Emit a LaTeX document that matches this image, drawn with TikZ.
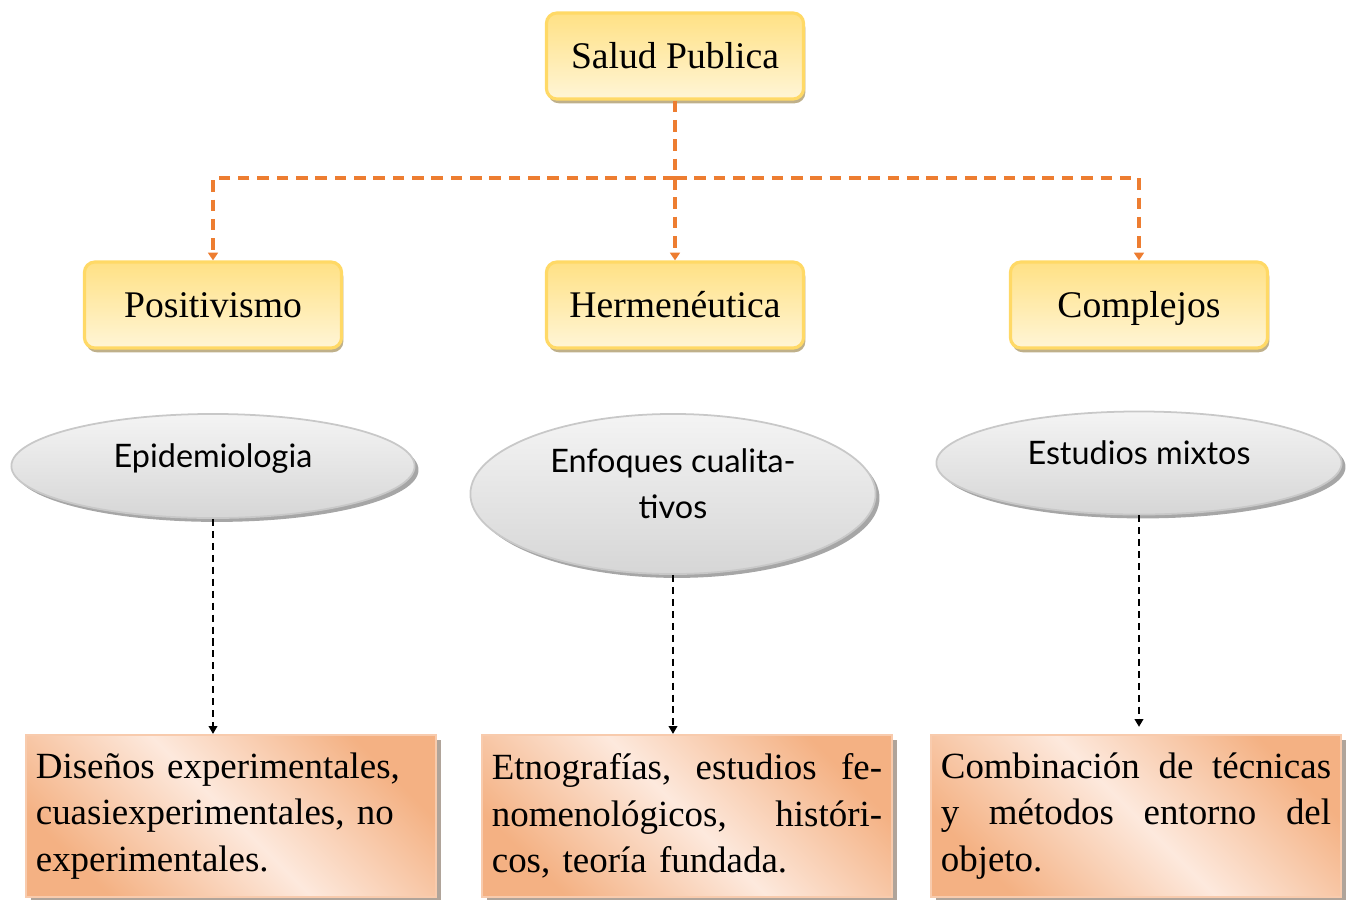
\documentclass[tikz,border=0pt]{standalone}
\usepackage{fontspec}
\setmainfont{Liberation Serif}
\newfontfamily\ovalfont{Lato}
\usetikzlibrary{arrows.meta,shadows,shapes.geometric}

\definecolor{ylwline}{HTML}{FFD966}
\definecolor{ylwdark}{HTML}{FFE185}
\definecolor{ylwlight}{HTML}{FFF5D6}
\definecolor{ylwshadow}{HTML}{BFB08A}
\definecolor{orgline}{HTML}{ED7D31}
\definecolor{grayline}{HTML}{C8C8C8}
\definecolor{graytop}{HTML}{F4F4F4}
\definecolor{graybot}{HTML}{D6D6D6}
\definecolor{grayshadow}{HTML}{A6A6A6}
\definecolor{peachline}{HTML}{F8CBAD}
\definecolor{peachdark}{HTML}{F4B183}
\definecolor{peachlight}{HTML}{FDE9DD}
\definecolor{peachshadow}{HTML}{B0A49A}

\tikzset{
  topbox/.style={draw=ylwline, line width=0.9pt, rounded corners=3pt,
    top color=ylwdark, bottom color=ylwlight,
    minimum width=2.57cm, minimum height=0.86cm, inner sep=0pt,
    text height=2ex, text depth=0.5ex,
    font=\fontsize{10.7}{13}\selectfont,
    drop shadow={shadow xshift=0.5pt, shadow yshift=-1.2pt, fill=ylwshadow, opacity=1}},
  oval/.style={ellipse, draw=grayline, line width=0.5pt,
    top color=graytop, bottom color=graybot,
    inner sep=0pt, align=center, text depth=6pt,
    font=\ovalfont\fontsize{9.2}{13}\selectfont,
    drop shadow={shadow xshift=1.1pt, shadow yshift=-1.1pt, fill=grayshadow, opacity=1}},
  textbox/.style={draw=peachline, line width=0.6pt,
    top color=peachdark, bottom color=peachdark, middle color=peachlight, shading angle=-45,
    minimum width=4.1cm, minimum height=1.62cm, text width=3.9cm,
    inner xsep=0.1cm, inner ysep=0pt, align=left,
    font=\fontsize{10.5}{13.3}\selectfont,
    drop shadow={shadow xshift=1.4pt, shadow yshift=-1.4pt, fill=peachshadow, opacity=1}},
  orgarrow/.style={draw=orgline, line width=1.05pt, dash pattern=on 3.3pt off 2.2pt,
    -{Triangle[length=2.2pt,width=2.8pt]}},
  blkarrow/.style={draw=black, line width=0.6pt, dash pattern=on 2pt off 1.4pt,
    -{Triangle[length=2.2pt,width=2.4pt]}}
}

\begin{document}
\begin{tikzpicture}[x=0.01cm, y=-0.01cm]
    \useasboundingbox (0,0) rectangle (1347,899);

    % level 1
    \node[topbox] (salud) at (675,56) {Salud Publica};

    % level 2
    \node[topbox] (posit) at (213,305) {Positivismo};
    \node[topbox] (herm) at (675,305) {Hermenéutica};
    \node[topbox] (compl) at (1139,305) {Complejos};
    \coordinate (branch) at (675,178);

    % ovals
    \node[oval, minimum width=4.03cm, minimum height=1.04cm] (epid) at (213,466) {Epidemiologia};
    \node[oval, minimum width=4.05cm, minimum height=1.6cm] (enfoq) at (673,494) {Enfoques cualita-\\tivos};
    \node[oval, minimum width=4.05cm, minimum height=1.03cm] (mixto) at (1139,463) {Estudios mixtos};

    % text boxes
    \node[textbox] (dise) at (231,816) {Diseños experimentales,\\cuasiexperimentales, no\\experimentales.};
    \node[textbox] (etno) at (687,816) {Etnografías,\hfill estudios\hfill fe-\\nomenológicos,\hfill históri-\\cos, teoría fundada.};
    \node[textbox] (combi) at (1136,816) {Combinación\hfill de\hfill técnicas\\y\hfill métodos\hfill entorno\hfill del\\objeto.};

    % connectors
    \draw[orgarrow] (salud.south) -- (herm.north);
    \draw[orgarrow] (branch) -| (posit.north);
    \draw[orgarrow] (branch) -| (compl.north);
    \draw[blkarrow] (epid.south) -- (epid.south |- dise.north);
    \draw[blkarrow] (enfoq.south) -- (enfoq.south |- etno.north);
    \draw[blkarrow] (mixto.south) -- ([yshift=2pt]mixto.south |- combi.north);
\end{tikzpicture}
\end{document}
